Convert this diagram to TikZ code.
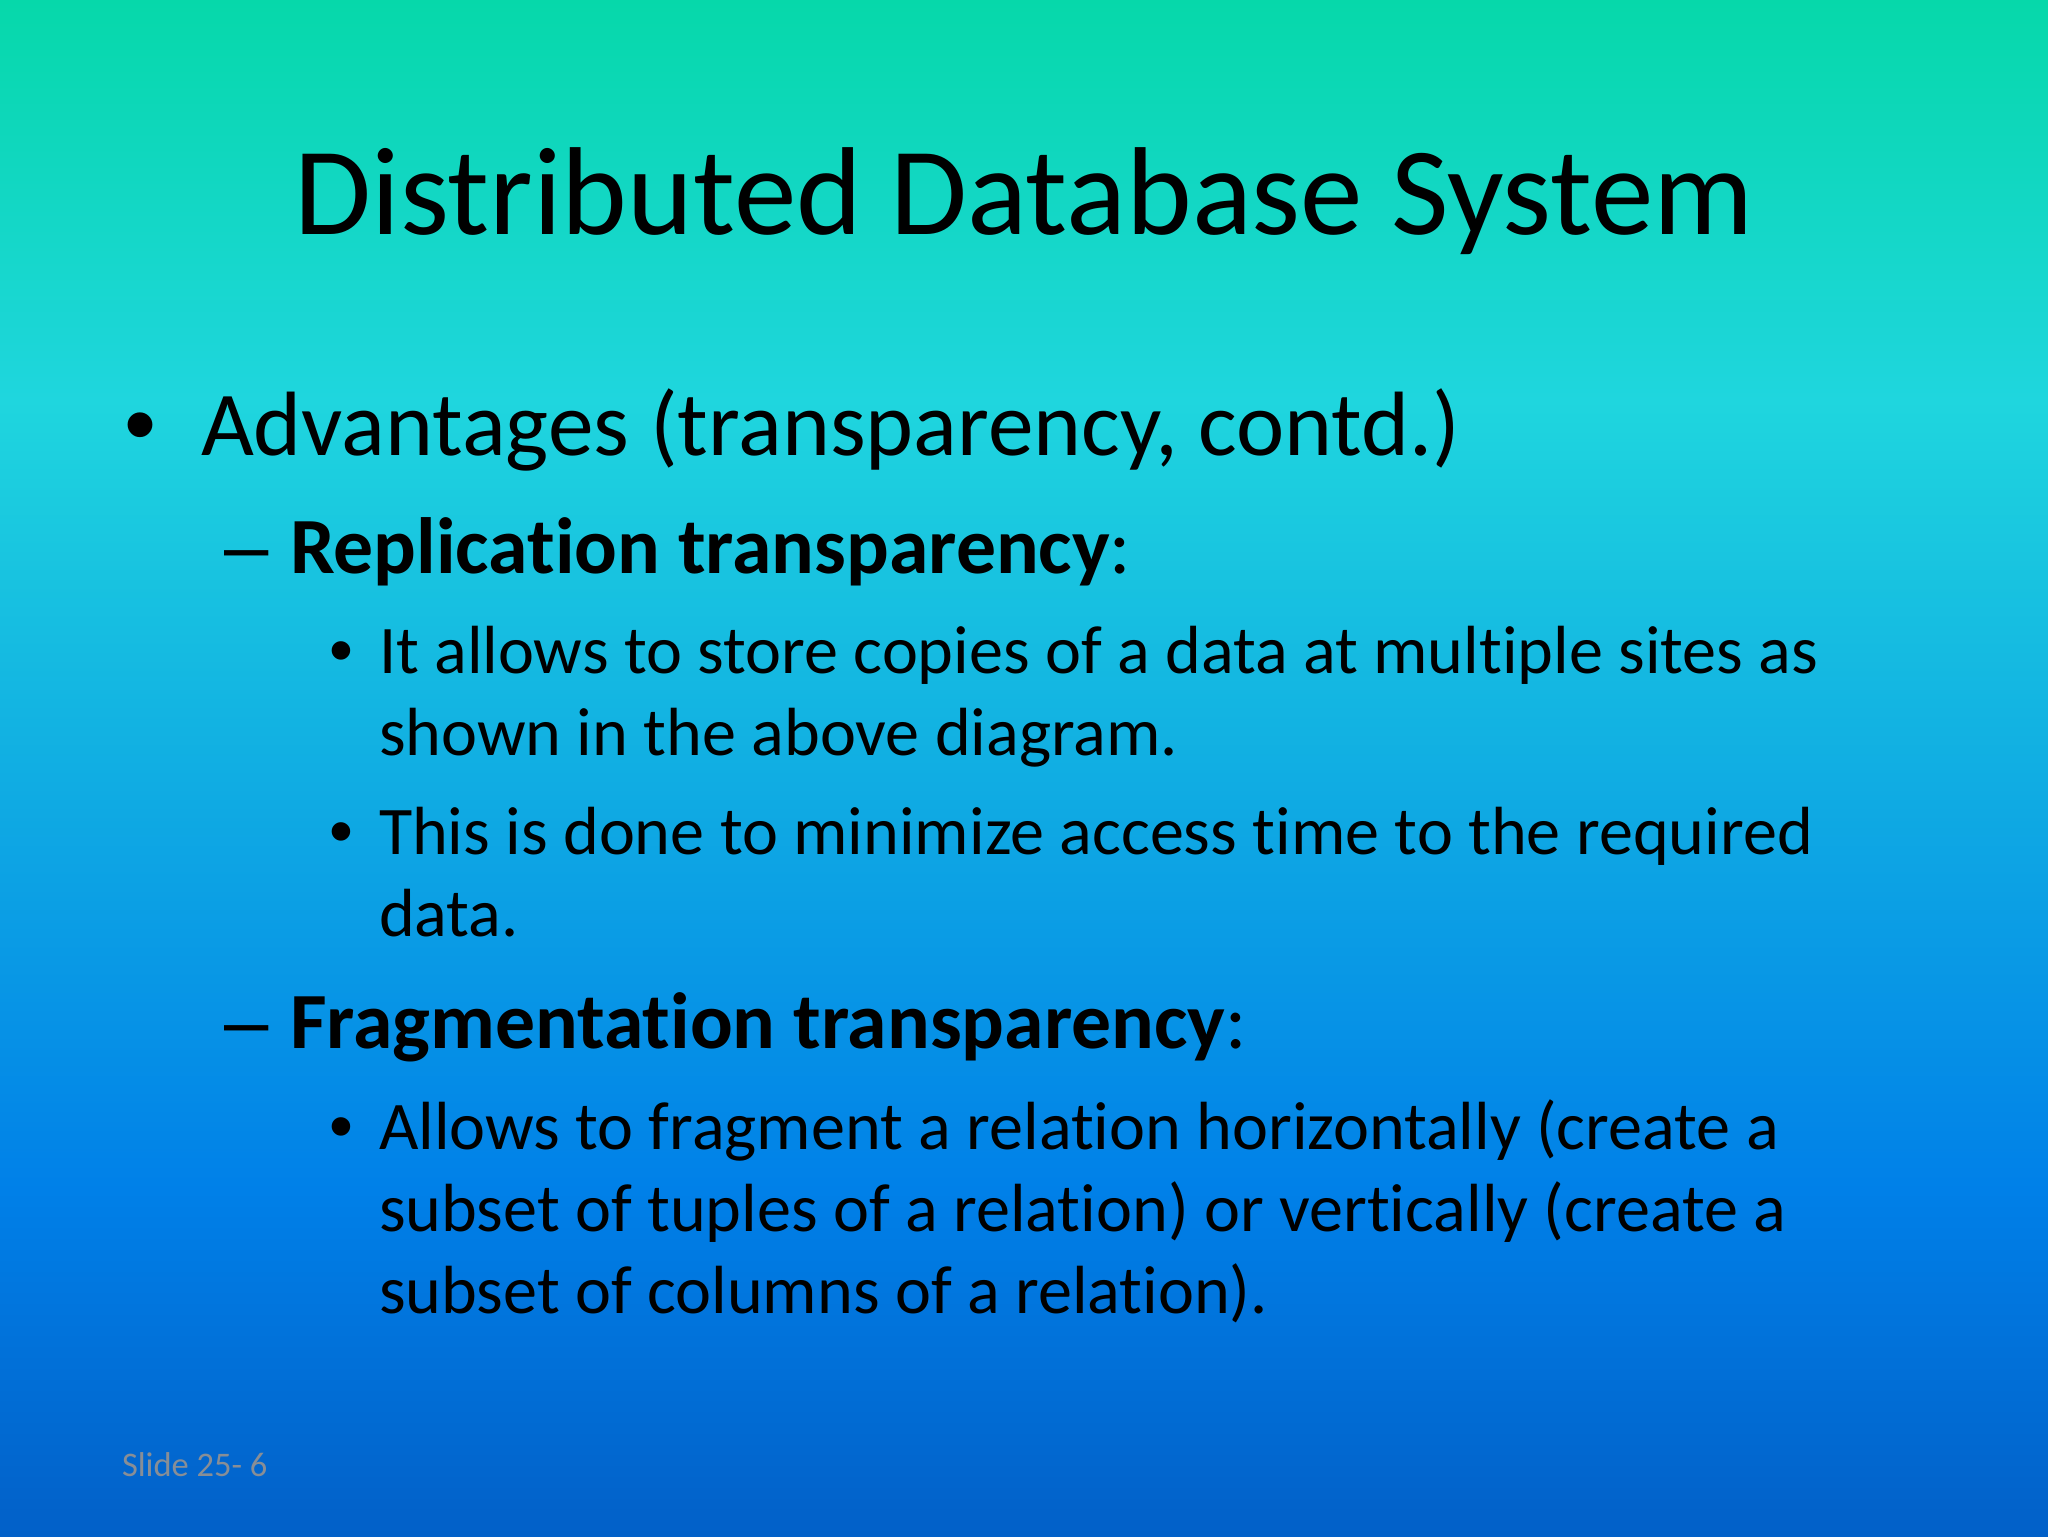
\documentclass[tikz,border=0pt]{standalone}
\usepackage{fontspec}
\setmainfont[RawFeature={-liga}]{Carlito}
\newfontfamily\markfont{Liberation Sans}
\usetikzlibrary{positioning}
\definecolor{bgtop}{HTML}{06D8AA}
\definecolor{bgmid}{HTML}{1FD6DE}
\definecolor{bglow}{HTML}{0080E8}
\definecolor{bgend}{HTML}{0260C8}
\definecolor{footgray}{HTML}{888E96}
\tikzset{
    slidetext/.style = {
        anchor=base west,
        inner sep=0pt,
        outer sep=0pt,
        text=black
    },
    titletext/.style = {
        slidetext,
        anchor=base,
        font=\fontsize{125.6pt}{125.6pt}\selectfont
    },
    leveltext/.style = {
        slidetext,
        font=\fontsize{91.7pt}{91.7pt}\selectfont
    },
    subtext/.style = {
        slidetext,
        font=\fontsize{80pt}{80pt}\selectfont
    },
    bodytext/.style = {
        slidetext,
        font=\fontsize{68.4pt}{68.4pt}\selectfont
    },
    foottext/.style = {
        slidetext,
        text=footgray,
        font=\fontsize{34.6pt}{34.6pt}\selectfont
    }
}
\begin{document}
\begin{tikzpicture}[x=0.0352778cm,y=-0.0352778cm]
    \useasboundingbox (0,0) rectangle (2048,1536);
    % background
    \fill[top color=bgtop,bottom color=bgmid] (0,0) rectangle (2048,400);
    \fill[top color=bgmid,bottom color=bglow] (0,400) rectangle (2048,1190);
    \fill[top color=bglow,bottom color=bgend] (0,1190) rectangle (2048,1536);
    % title
    \node [titletext] (title) at (1024,234) {Distributed Database System};
    % bullets
    \node [leveltext] (bulletA) at (124,455) {\markfont •};
    \node [leveltext] (adv) at (201,455) {Advantages (transparency, contd.)};
    \node [subtext] (dashB) at (224,573) {\markfont –};
    \node [subtext] (repl) at (290,573) {\textbf{Replication transparency}:};
    \node [bodytext] (bulletC) at (329,673) {\markfont •};
    \node [bodytext] (copiesA) at (379,673) {It allows to store copies of a data at multiple sites as};
    \node [bodytext] (copiesB) at (379,755) {shown in the above diagram.};
    \node [bodytext] (bulletD) at (329,854) {\markfont •};
    \node [bodytext] (doneA) at (379,854) {This is done to minimize access time to the required};
    \node [bodytext] (doneB) at (379,936) {data.};
    \node [subtext] (dashE) at (224,1048) {\markfont –};
    \node [subtext] (frag) at (290,1048) {\textbf{Fragmentation transparency}:};
    \node [bodytext] (bulletF) at (329,1149) {\markfont •};
    \node [bodytext] (fragA) at (379,1149) {Allows to fragment a relation horizontally (create a};
    \node [bodytext] (fragB) at (379,1231) {subset of tuples of a relation) or vertically (create a};
    \node [bodytext] (fragC) at (379,1313) {subset of columns of a relation).};
    \node [foottext] (foot) at (122,1476) {Slide 25- 6};
\end{tikzpicture}
\end{document}
